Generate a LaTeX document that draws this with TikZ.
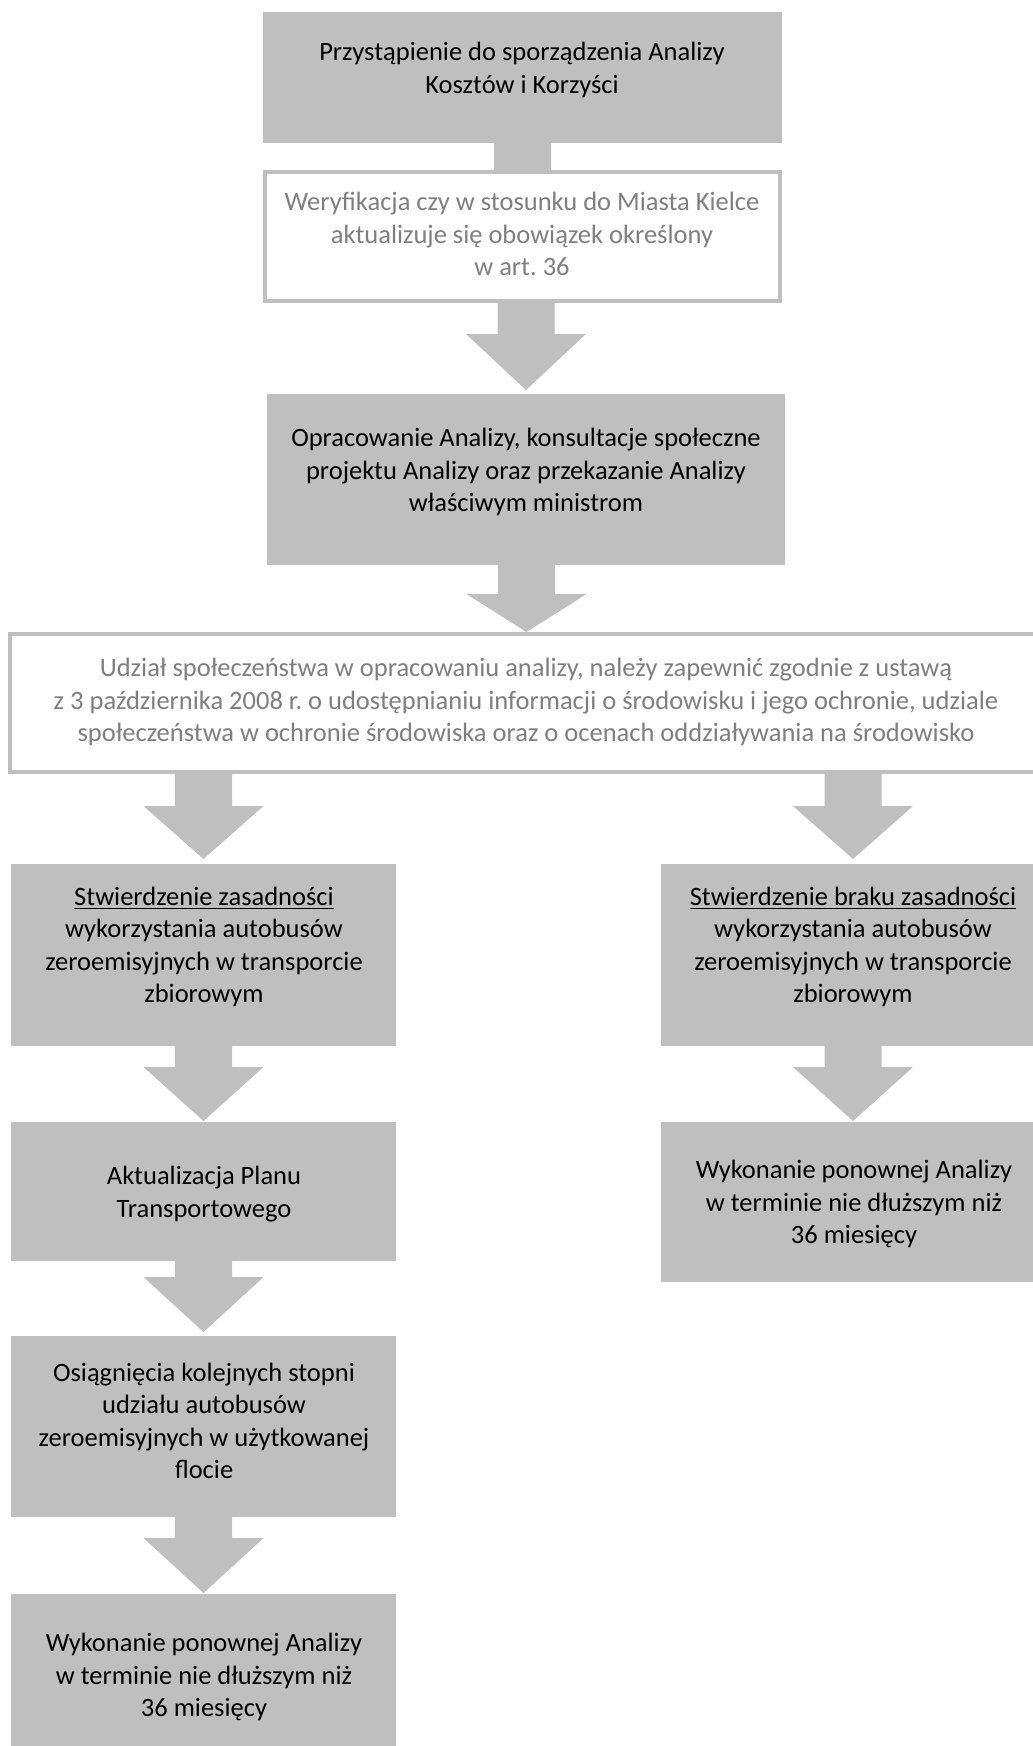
\documentclass[tikz,border=0pt]{standalone}
\usepackage{fontspec}
\setmainfont{Carlito}
\usetikzlibrary{calc}
\definecolor{boxgray}{RGB}{191,191,191}
\definecolor{txtgray}{RGB}{127,127,127}
\pgfdeclarelayer{bg}
\pgfsetlayers{bg,main}
\frenchspacing
% block arrow: source, target, tip shift (pt, up), head height (pt)
\newcommand\barrow[4]{%
  \fill[arrowfill] let \p1=(#1.south), \p2=(#2.north) in
    (\x2-14.25pt,\y1) -- (\x2+14.25pt,\y1) -- (\x2+14.25pt,\y2+#3pt+#4pt)
    -- (\x2+30pt,\y2+#3pt+#4pt) -- (\x2,\y2+#3pt) -- (\x2-30pt,\y2+#3pt+#4pt)
    -- (\x2-14.25pt,\y2+#3pt+#4pt) -- cycle;}
\begin{document}
\begin{tikzpicture}[x=0.5pt,y=-0.5pt,
  arrowfill/.style={fill=boxgray},
  gbox/.style={fill=boxgray, draw=none, inner sep=0pt, outer sep=0pt, anchor=north west},
  wbox/.style={fill=white, draw=boxgray, line width=2pt, inner sep=0pt, outer sep=0pt, anchor=north west},
  txt/.style={align=center, font=\fontsize{13.25pt}{16.2pt}\selectfont\frenchspacing, inner sep=0pt, text=black},
  gtxt/.style={txt, text=txtgray}]
\useasboundingbox (0,0) rectangle (1033,1746);
\clip (0,0) rectangle (1033,1746);

% boxes
\node[gbox, minimum width=259.5pt, minimum height=65.5pt] (b1) at (263,12) {};
\node[wbox, minimum width=257.5pt, minimum height=64.5pt] (b2) at (265,172) {};
\node[gbox, minimum width=259pt, minimum height=85.5pt] (b3) at (267,394) {};
\node[wbox, minimum width=516.5pt, minimum height=69pt] (b4) at (10,634) {};
\node[gbox, minimum width=192.5pt, minimum height=91pt] (l1) at (11,864) {};
\node[gbox, minimum width=192pt, minimum height=91pt] (r1) at (661,864) {};
\node[gbox, minimum width=192.5pt, minimum height=69.5pt] (l2) at (11,1122) {};
\node[gbox, minimum width=192pt, minimum height=80pt] (r2) at (661,1122) {};
\node[gbox, minimum width=192.5pt, minimum height=90.5pt] (l3) at (11,1336) {};
\node[gbox, minimum width=192.5pt, minimum height=85pt] (l4) at (11,1594) {};

% texts
\node[txt] (t1) at (522,70) {Przystąpienie do sporządzenia Analizy\\Kosztów i Korzyści};
\node[gtxt] (t2) at (522,234) {Weryfikacja czy w stosunku do Miasta Kielce\\aktualizuje się obowiązek określony\\w art. 36};
\node[txt] (t3) at (526,472) {Opracowanie Analizy, konsultacje społeczne\\projektu Analizy oraz przekazanie Analizy\\właściwym ministrom};
\node[gtxt] (t4) at (526,702) {Udział społeczeństwa w opracowaniu analizy, należy zapewnić zgodnie z ustawą\\z 3 października 2008 r. o udostępnianiu informacji o środowisku i jego ochronie, udziale\\społeczeństwa w ochronie środowiska oraz o ocenach oddziaływania na środowisko};
\node[txt] (tl1) at (204,947) {\underline{Stwierdzenie zasadności}\\wykorzystania autobusów\\zeroemisyjnych w transporcie\\zbiorowym};
\node[txt] (tr1) at (853,947) {\underline{Stwierdzenie braku zasadności}\\wykorzystania autobusów\\zeroemisyjnych w transporcie\\zbiorowym};
\node[txt] (tl2) at (204,1194) {Aktualizacja Planu\\Transportowego};
\node[txt] (tr2) at (854,1204) {Wykonanie ponownej Analizy\\w terminie nie dłuższym niż\\36 miesięcy};
\node[txt] (tl3) at (204,1421) {Osiągnięcia kolejnych stopni\\udziału autobusów\\zeroemisyjnych w użytkowanej\\flocie};
\node[txt] (tl4) at (204,1677) {Wykonanie ponownej Analizy\\w terminie nie dłuższym niż\\36 miesięcy};

% arrows behind boxes
\begin{pgfonlayer}{bg}
\barrow{b1}{b2}{-30}{27.5}
\barrow{b2}{b3}{2}{28}
\barrow{b3}{b4}{1}{19}
\barrow{b4}{l1}{2.5}{26.5}
\barrow{b4}{r1}{2.5}{26.5}
\barrow{l1}{l2}{0.5}{27}
\barrow{r1}{r2}{0.5}{27}
\barrow{l2}{l3}{2}{27.5}
\barrow{l3}{l4}{0.5}{27.5}
\end{pgfonlayer}
\end{tikzpicture}
\end{document}
